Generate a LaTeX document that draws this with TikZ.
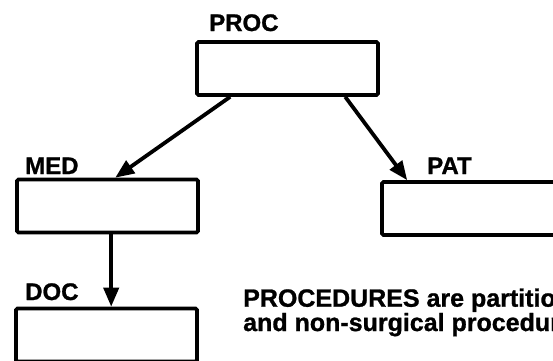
\documentclass[tikz,border=0pt]{standalone}
\usepackage{fontspec}
\setmainfont{Liberation Sans}[BoldFeatures={FakeBold=1}]
\usetikzlibrary{arrows.meta,calc}
\begin{document}
\begin{tikzpicture}[x=1pt,y=-1pt,
  entity/.style={draw,line width=3.6pt,rounded corners=1.5pt,minimum width=181pt,
    minimum height=53pt,inner sep=0pt},
  label/.style={anchor=base west,inner sep=0pt,font=\bfseries\fontsize{24}{24}\selectfont},
  link/.style={line width=3.8pt,-{Triangle[length=19pt,width=15pt]}},
  note/.style={anchor=base west,inner sep=0pt,align=left,
    font=\bfseries\fontsize{25}{22}\selectfont}]
  \useasboundingbox (0,0) rectangle (553,360);
  \clip (0,0) rectangle (553,360);
  \fill[white] (0,0) rectangle (553,360);

  % entity boxes
  \node[entity] (proc) at (287.5,68.5) {};
  \node[entity] (med)  at (107.5,206) {};
  \node[entity] (pat)  at (472.5,208.5) {};
  \node[entity] (doc)  at (106.5,335) {};

  % entity names
  \node[label] (procname) at (209,31) {PROC};
  \node[label] (medname)  at (25,174) {MED};
  \node[label] (patname)  at (427,174) {PAT};
  \node[label] (docname)  at (25,300) {DOC};

  % hierarchy links
  \draw[link] ($(proc.south west)+(35,0)$) -- ($(med.north west)+(100,0)$);
  \draw[link] ($(proc.south west)+(150,0)$) -- ($(pat.north west)+(27,0)$);
  \draw[link] ($(med.south west)+(96,0)$) -- ($(doc.north west)+(97,0)$);

  % explanatory note
  \node[note] (caption) at (243,331)
    {PROCEDURES are partitioned\\and non-surgical procedures};
\end{tikzpicture}
\end{document}
